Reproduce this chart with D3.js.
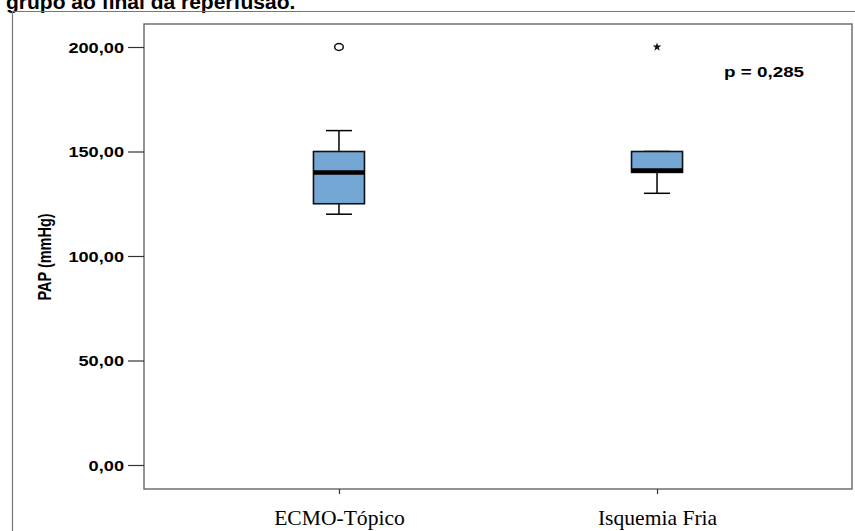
<!DOCTYPE html>
<html>
<head>
<meta charset="utf-8">
<script src="https://cdn.jsdelivr.net/npm/d3@7"></script>
<style>
  html, body { margin: 0; padding: 0; background: #fff; }
  svg { display: block; }
</style>
</head>
<body>
<svg id="chart" width="855" height="531"></svg>
<script>
// Groups and their five-number summaries (PAP, mmHg)
const categories = ["ECMO-Tópico", "Isquemia Fria"];
const whiskerLow  = [120, 130];
const quartile1   = [125, 140];
const medians     = [140, 140];
const quartile3   = [150, 150];
const whiskerHigh = [160, 150];
// Points beyond the whiskers: "o" = outlier, "*" = extreme
const outliers = [
  { group: "ECMO-Tópico", value: 200, kind: "o" },
  { group: "Isquemia Fria", value: 200, kind: "*" }
];
const yTicks = [0, 50, 100, 150, 200];
const yLabel = "PAP (mmHg)";
const pValueText = "p = 0,285";
const titleText = "grupo ao final da reperfusão.";

const svg = d3.select("#chart");
const frame = { left: 144, right: 852, top: 24, bottom: 489 };
const sx = 1.3; // horizontal stretch of the sans-serif labels

const x = d3.scalePoint().domain(categories)
  .range([frame.left, frame.right]).padding(0.613);
const y = d3.scaleLinear().domain([0, 200]).range([465, 47]);
const boxW = 51, capW = 26;

// page title (top partially cut) and the outer border
svg.append("text")
  .attr("transform", "translate(6,8.5) scale(1.0,1)")
  .attr("font-family", "Liberation Sans, Arial, sans-serif")
  .attr("font-weight", "bold").attr("font-size", 21)
  .attr("fill", "#000").text(titleText);
svg.append("line").attr("x1", 12).attr("x2", 855).attr("y1", 11.5).attr("y2", 11.5)
  .attr("stroke", "#777").attr("stroke-width", 1.2);
svg.append("line").attr("x1", 12.5).attr("x2", 12.5).attr("y1", 11).attr("y2", 531)
  .attr("stroke", "#777").attr("stroke-width", 1.2);

// plot frame
svg.append("rect")
  .attr("x", frame.left).attr("y", frame.top)
  .attr("width", frame.right - frame.left).attr("height", frame.bottom - frame.top)
  .attr("fill", "none").attr("stroke", "#666").attr("stroke-width", 1.4);

// y axis
const yAxis = svg.append("g")
  .attr("transform", `translate(${frame.left},0)`)
  .call(d3.axisLeft(y).tickValues(yTicks).tickSize(16).tickFormat(() => ""));
yAxis.select(".domain").remove();
yAxis.selectAll(".tick line").attr("stroke", "#333").attr("stroke-width", 1.2);
yAxis.selectAll(".tick").append("text")
  .attr("transform", `translate(-20,5) scale(${sx},1)`)
  .attr("text-anchor", "end")
  .attr("font-family", "Liberation Sans, Arial, sans-serif")
  .attr("font-weight", "bold").attr("font-size", 14).attr("fill", "#000")
  .text(d => d3.format(".2f")(d).replace(".", ","));

// y axis title
svg.append("text")
  .attr("transform", `translate(51,257) rotate(-90) scale(1,${sx})`)
  .attr("text-anchor", "middle")
  .attr("font-family", "Liberation Sans, Arial, sans-serif")
  .attr("font-weight", "bold").attr("font-size", 14.5).attr("fill", "#000")
  .text(yLabel);

// x axis
const xAxis = svg.append("g")
  .attr("transform", `translate(0,${frame.bottom})`)
  .call(d3.axisBottom(x).tickSize(5).tickFormat(() => ""));
xAxis.select(".domain").remove();
xAxis.selectAll(".tick line").attr("stroke", "#333").attr("stroke-width", 1.2);
xAxis.selectAll(".tick").append("text")
  .attr("transform", "translate(0,36) scale(1.08,1)")
  .attr("text-anchor", "middle")
  .attr("font-family", "Liberation Serif, serif")
  .attr("font-size", 20).attr("fill", "#000")
  .text(d => d);

// boxes
const rows = categories.map((c, i) => ({
  c, lo: whiskerLow[i], q1: quartile1[i], med: medians[i], q3: quartile3[i], hi: whiskerHigh[i]
}));
const g = svg.append("g").selectAll("g").data(rows).join("g")
  .attr("transform", d => `translate(${x(d.c)},0)`);
g.append("line").attr("x1", 0).attr("x2", 0)
  .attr("y1", d => y(d.hi)).attr("y2", d => y(d.q3))
  .attr("stroke", "#000").attr("stroke-width", 1.5);
g.append("line").attr("x1", 0).attr("x2", 0)
  .attr("y1", d => y(d.q1)).attr("y2", d => y(d.lo))
  .attr("stroke", "#000").attr("stroke-width", 1.5);
g.append("line").attr("x1", -capW / 2).attr("x2", capW / 2)
  .attr("y1", d => y(d.hi)).attr("y2", d => y(d.hi))
  .attr("stroke", "#000").attr("stroke-width", 1.5);
g.append("line").attr("x1", -capW / 2).attr("x2", capW / 2)
  .attr("y1", d => y(d.lo)).attr("y2", d => y(d.lo))
  .attr("stroke", "#000").attr("stroke-width", 1.5);
g.append("rect")
  .attr("x", -boxW / 2).attr("width", boxW)
  .attr("y", d => y(d.q3)).attr("height", d => y(d.q1) - y(d.q3))
  .attr("fill", "#74a7d4").attr("stroke", "#111").attr("stroke-width", 1.6);
g.append("line").attr("x1", -boxW / 2).attr("x2", boxW / 2)
  .attr("y1", d => y(d.med) - (d.med === d.q1 ? 2 : 0))
  .attr("y2", d => y(d.med) - (d.med === d.q1 ? 2 : 0))
  .attr("stroke", "#000").attr("stroke-width", 4.5);

// outliers and extremes
const outs = svg.append("g").selectAll("g").data(outliers).join("g")
  .attr("transform", d => `translate(${x(d.group)},${y(d.value)})`);
outs.filter(d => d.kind === "o").append("ellipse")
  .attr("rx", 4.3).attr("ry", 3.4)
  .attr("fill", "#fff").attr("stroke", "#111").attr("stroke-width", 1.5);
outs.filter(d => d.kind === "*").append("path")
  .attr("d", d3.symbol(d3.symbolStar, 24))
  .attr("fill", "#111");

// significance annotation
svg.append("text")
  .attr("transform", `translate(724,77) scale(${sx},1)`)
  .attr("font-family", "Liberation Sans, Arial, sans-serif")
  .attr("font-weight", "bold").attr("font-size", 14.5).attr("fill", "#000")
  .text(pValueText);
</script>
</body>
</html>
